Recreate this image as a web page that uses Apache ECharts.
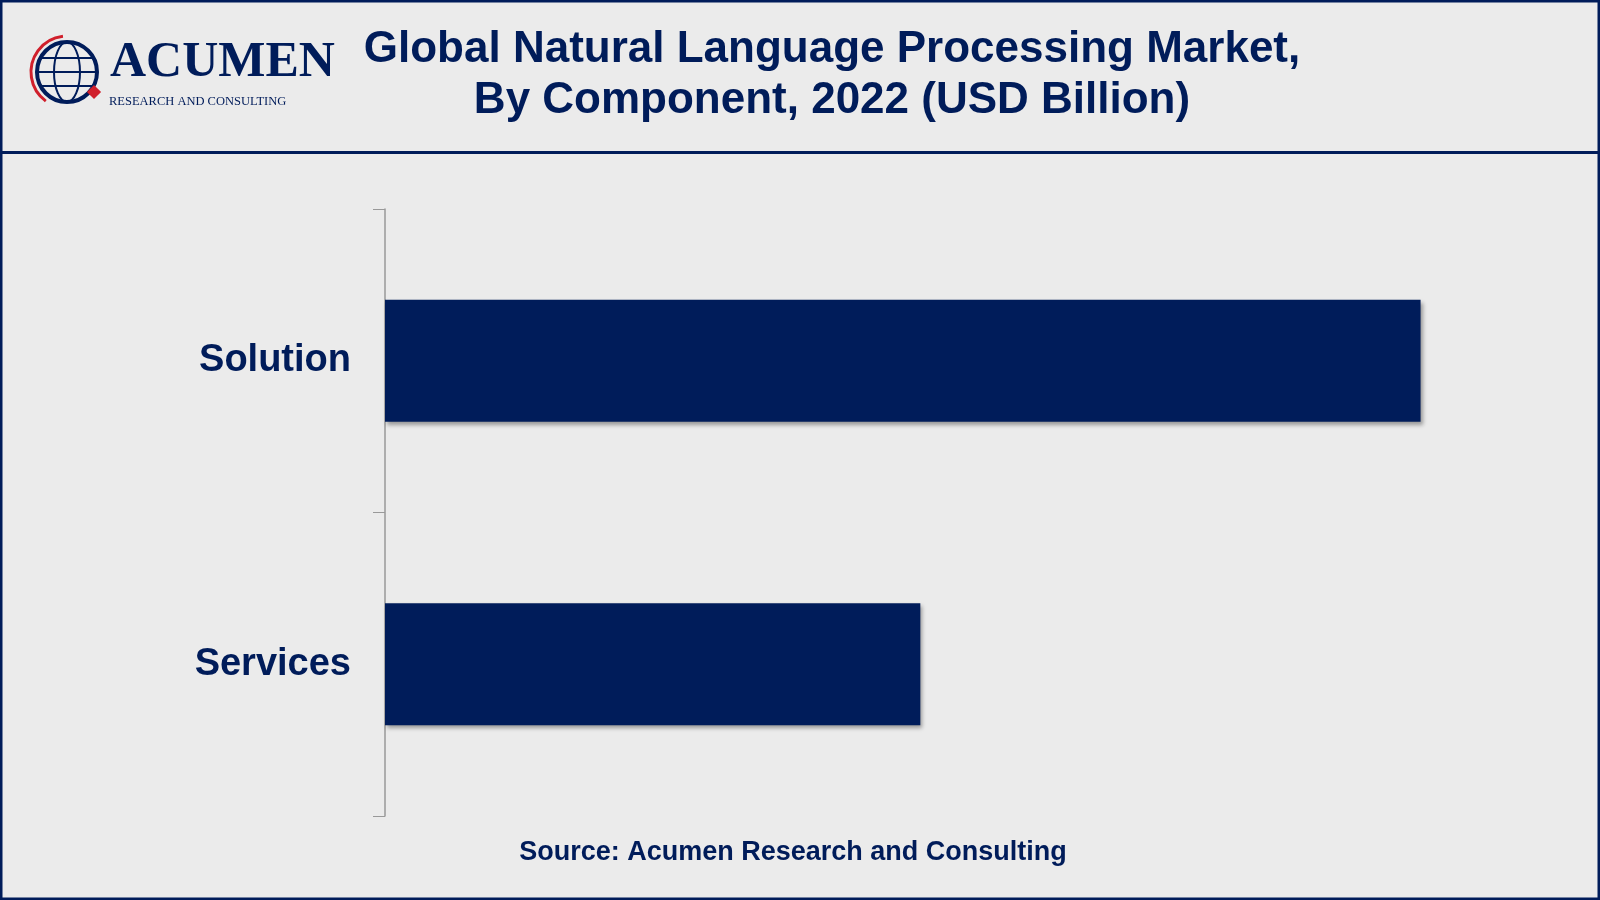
<!DOCTYPE html>
<html><head><meta charset="utf-8">
<script src="https://cdn.jsdelivr.net/npm/echarts@6/dist/echarts.min.js"></script>
<style>html,body{margin:0;padding:0;background:#ebebeb}#c{width:1600px;height:900px}</style>
</head><body><div id="c"></div>
<script>
const categories = ['Services', 'Solution'];
const values = [6.1, 11.8];
const titleLines = ['Global Natural Language Processing Market,', 'By Component, 2022 (USD Billion)'];
const sourceText = 'Source: Acumen Research and Consulting';
const navy = '#001c5a';
const chart = echarts.init(document.getElementById('c'));
chart.setOption({
  backgroundColor: '#ebebeb',
  grid: {left: 385, right: 118, top: 209, bottom: 84},
  xAxis: {type: 'value', min: 0, max: 12.5, show: false},
  yAxis: {type: 'category', data: categories,
    axisLine: {lineStyle: {color: '#999', width: 1.5}},
    axisTick: {show: true, length: 12, lineStyle: {color: '#999'}},
    axisLabel: {color: navy, fontSize: 38, fontWeight: 'bold', fontFamily: 'Liberation Sans', margin: 34}},
  series: [{type: 'bar', data: values, barWidth: 122, itemStyle: {color: navy, shadowColor: 'rgba(0,0,0,0.35)', shadowBlur: 4, shadowOffsetX: 2, shadowOffsetY: 3}, silent: true}],
  graphic: [
    {type: 'rect', shape: {x: 1, y: 1, width: 1598, height: 898}, style: {fill: 'none', stroke: navy, lineWidth: 3}},
    {type: 'rect', shape: {x: 0, y: 151, width: 1600, height: 3}, style: {fill: navy}},
    {type: 'text', x: 832, y: 24, style: {text: titleLines.join('\n'), fill: navy, font: 'bold 44px "Liberation Sans"', align: 'center', lineHeight: 51}},
    {type: 'text', x: 793, y: 853, style: {text: sourceText, fill: navy, font: 'bold 27px "Liberation Sans"', align: 'center', verticalAlign: 'middle'}},
    {type: 'circle', shape: {cx: 67, cy: 72, r: 30}, style: {fill: 'none', stroke: navy, lineWidth: 4}},
    {type: 'ellipse', shape: {cx: 67, cy: 72, rx: 13, ry: 30}, style: {fill: 'none', stroke: navy, lineWidth: 2}},
    {type: 'line', shape: {x1: 37, y1: 72, x2: 97, y2: 72}, style: {stroke: navy, lineWidth: 2}},
    {type: 'line', shape: {x1: 41, y1: 58, x2: 93, y2: 58}, style: {stroke: navy, lineWidth: 2}},
    {type: 'line', shape: {x1: 41, y1: 86, x2: 93, y2: 86}, style: {stroke: navy, lineWidth: 2}},
    {type: 'arc', shape: {cx: 67, cy: 72, r: 36, startAngle: 2.2, endAngle: 4.6}, style: {fill: 'none', stroke: '#d01f2b', lineWidth: 3}},
    {type: 'rect', rotation: Math.PI / 4, x: 94, y: 92, shape: {x: -5, y: -5, width: 10, height: 10}, style: {fill: '#d01f2b'}},
    {type: 'text', x: 110, y: 38, style: {text: 'ACUMEN', fill: navy, font: 'bold 50px "Liberation Serif"'}},
    {type: 'text', x: 109, y: 95, style: {text: 'RESEARCH AND CONSULTING', fill: navy, font: '12.5px "Liberation Serif"'}}
  ]
});
</script></body></html>
